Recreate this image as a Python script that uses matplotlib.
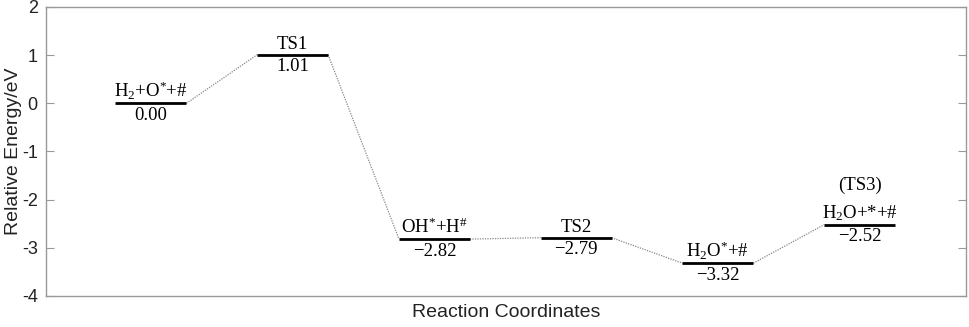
import matplotlib.pyplot as plt
import matplotlib as mpl

mpl.rcParams['mathtext.fontset'] = 'custom'
mpl.rcParams['mathtext.rm'] = 'Liberation Serif'
mpl.rcParams['mathtext.it'] = 'Liberation Serif:italic'
mpl.rcParams['mathtext.default'] = 'rm'
mpl.rcParams['axes.unicode_minus'] = False

# Data
states = [r'H$_2$+O$^{\!*}\!$+#', 'TS1', r'OH$^{\!*}\!$+H$^{\#}$', 'TS2',
          r'H$_2$O$^{\!*}\!$+#', r'H$_2$O+*+#']
energies = [0.00, 1.01, -2.82, -2.79, -3.32, -2.52]
value_labels = ['0.00', '1.01', '\u22122.82', '\u22122.79', '\u22123.32', '\u22122.52']
extra_labels = ['', '', '', '', '', '(TS3)']

fig = plt.figure(figsize=(9.69, 3.27), dpi=100)
ax = fig.add_axes([0.0475, 0.095, 0.9494, 0.8836])

half = 0.25
serif = 'Liberation Serif'
fs = 13.5
for i, (name, e, val, extra) in enumerate(zip(states, energies, value_labels, extra_labels)):
    x = i + 1
    ax.plot([x - half, x + half], [e, e], color='black', lw=2, solid_capstyle='butt', zorder=3)
    ax.annotate(name, (x, e), xytext=(0, 1.2), textcoords='offset points',
                ha='center', va='bottom', fontsize=fs, family=serif)
    ax.annotate(val, (x, e), xytext=(0, -2.5), textcoords='offset points',
                ha='center', va='top', fontsize=fs, family=serif)
    if extra:
        ax.annotate(extra, (x, e), xytext=(0, 22), textcoords='offset points',
                    ha='center', va='bottom', fontsize=fs, family=serif)
    if i < len(energies) - 1:
        ax.plot([x + half, x + 1 - half], [e, energies[i + 1]], color='#888888',
                lw=0.9, ls=(0, (1, 1)), zorder=2)

ax.set_xlim(0.26, 6.75)
ax.set_ylim(-4, 2)
ax.set_yticks([2, 1, 0, -1, -2, -3, -4])
ax.set_xticks([])
ax.tick_params(axis='y', direction='in', length=6, width=0.8, color='#999999',
               right=True, labelsize=13, labelcolor='#222222', pad=6)
for sp in ax.spines.values():
    sp.set_color('#999999')
    sp.set_linewidth(1.0)
for lbl in ax.get_yticklabels():
    lbl.set_family('Liberation Sans')

ax.set_ylabel('Relative Energy/eV', fontsize=14, family='Liberation Sans', color='#222222', labelpad=0)
ax.set_xlabel('Reaction Coordinates', fontsize=14, family='Liberation Sans', color='#222222', labelpad=6)

plt.savefig('out.png', dpi=100, facecolor='white')
